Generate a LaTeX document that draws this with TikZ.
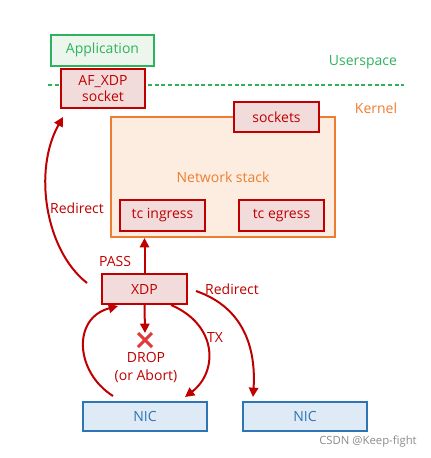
\documentclass[tikz,border=0pt]{standalone}
\usepackage{fontspec}
\setmainfont{Open Sans}
\usetikzlibrary{arrows.meta,calc}
\definecolor{dred}{HTML}{C00000}
\definecolor{pinkf}{HTML}{F2DCDB}
\definecolor{grn}{HTML}{2DB35E}
\definecolor{grnf}{HTML}{EDF6EC}
\definecolor{org}{HTML}{ED7D31}
\definecolor{orgf}{HTML}{FDEDE1}
\definecolor{blu}{HTML}{2E75B6}
\definecolor{bluf}{HTML}{DEEBF7}
\definecolor{xred}{HTML}{E03A3A}
\tikzset{
  x=0.75pt,y=-0.75pt,
  txt/.style={font=\fontsize{10.5}{12}\selectfont},
  redbox/.style={txt,draw=dred,fill=pinkf,line width=1.5pt,text=dred,inner sep=0pt,align=center},
  nicbox/.style={txt,draw=blu,fill=bluf,line width=1.5pt,text=blu,inner sep=0pt},
  lbl/.style={txt,text=dred,inner sep=0pt},
  arr/.style={draw=dred,line width=1.5pt,-{Triangle[width=7pt,length=7pt]}},
}
\begin{document}
\begin{tikzpicture}
\useasboundingbox[fill=white] (0,0) rectangle (431,458);
% userspace / kernel divider
\coordinate (dl) at (48,85);
\coordinate (dr) at (404,85);
\draw[grn,line width=1.5pt,dash pattern=on 3pt off 2pt] (dl) -- (dr);
\node[txt,text=grn] (us) at (363,62) {Userspace};
\node[txt,text=org] (kn) at (376,108) {Kernel};
% application
\node[txt,draw=grn,fill=grnf,line width=1.5pt,text=grn,inner sep=0pt,minimum width=103*0.75pt,minimum height=31*0.75pt] (app) at (102.5,50) {Application};
\node[redbox,minimum width=84*0.75pt,minimum height=39*0.75pt,font=\fontsize{10.5}{11.5}\selectfont] (afx) at (103,88.5) {AF\_XDP\\socket};
% network stack
\node[txt,draw=org,fill=orgf,line width=1.5pt,text=org,inner sep=0pt,minimum width=224*0.75pt,minimum height=120*0.75pt] (ns) at (223,177) {Network stack};
\node[redbox,minimum width=85*0.75pt,minimum height=30*0.75pt] (sock) at (276.5,117) {sockets};
\node[redbox,minimum width=85*0.75pt,minimum height=31*0.75pt] (tci) at (162.5,215.5) {tc ingress};
\node[redbox,minimum width=85*0.75pt,minimum height=31*0.75pt] (tce) at (281.5,215.5) {tc egress};
% XDP
\node[redbox,minimum width=85*0.75pt,minimum height=30*0.75pt] (xdp) at (144.5,289) {XDP};
% NICs
\node[nicbox,minimum width=124*0.75pt,minimum height=29*0.75pt] (nic1) at (145,416.5) {NIC};
\node[nicbox,minimum width=124*0.75pt,minimum height=29*0.75pt] (nic2) at (305,416.5) {NIC};
% labels
\node[lbl] (redl) at (77,208) {Redirect};
\node[lbl] (pass) at (115,261) {PASS};
\node[lbl] (redr) at (232,289) {Redirect};
\node[lbl] (tx) at (215,337) {TX};
\node[lbl,align=center,font=\fontsize{10.5}{12.8}\selectfont] (drop) at (146,367.5) {DROP\\(or Abort)};
\node[text=black!45,inner sep=0pt,font=\fontsize{8.5}{10}\selectfont] (csdn) at (368,442) {CSDN @Keep-fight};
% X mark
\coordinate (xm) at (145,340);
\draw[xred,line width=2.2pt] ($(xm)+(-7,-7)$) -- ($(xm)+(7,7)$);
\draw[xred,line width=2.2pt] ($(xm)+(-7,7)$) -- ($(xm)+(7,-7)$);
% arrows
\coordinate (r1s) at (87,283);
\coordinate (r1e) at (63,117);
\draw[arr] (r1s) .. controls (45,250) and (33,170) .. (r1e);
\draw[arr] (xdp.north) -- (ns.south -| xdp.north);
\coordinate (xtop) at (145,333);
\draw[arr] (xdp.south) -- (xtop);
\coordinate (l1s) at (113,396);
\coordinate (l1e) at (118,306);
\draw[arr] (l1s) .. controls (75,372) and (72,318) .. (l1e);
\coordinate (txs) at (171,305);
\coordinate (txe) at (185,397);
\draw[arr] (txs) .. controls (218,325) and (218,372) .. (txe);
\coordinate (rrs) at (196,291);
\coordinate (rre) at (253,397);
\draw[arr] (rrs) .. controls (245,308) and (256,350) .. (rre);
\end{tikzpicture}
\end{document}
